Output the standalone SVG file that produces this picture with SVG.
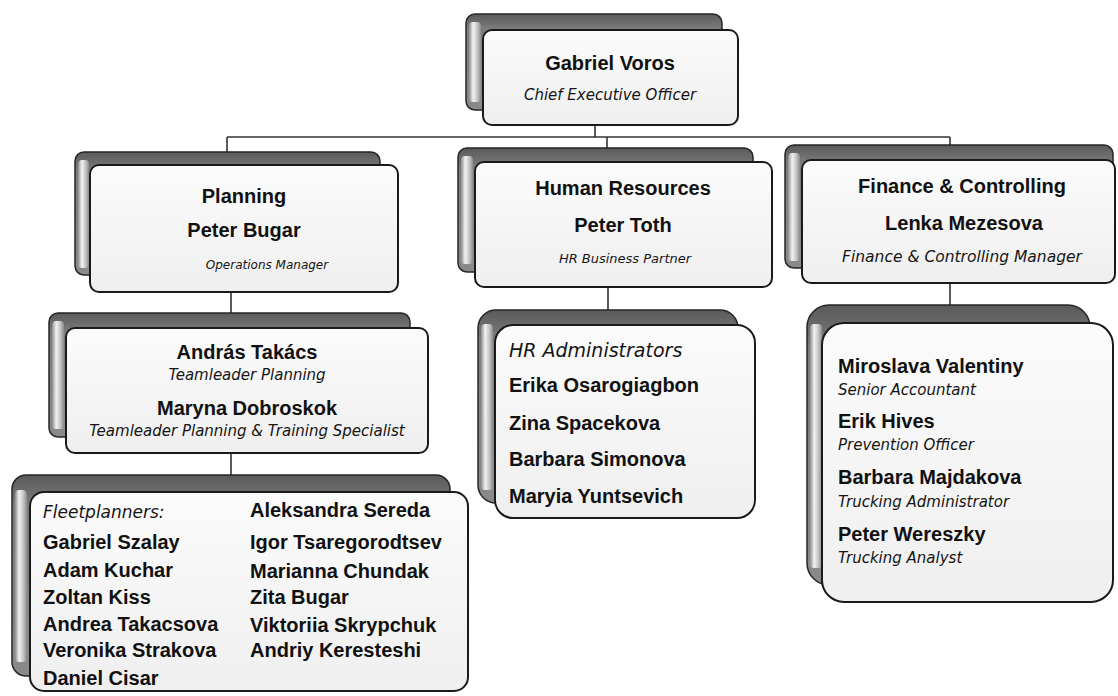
<svg xmlns="http://www.w3.org/2000/svg" width="1118" height="696" viewBox="0 0 1118 696">
<defs>
<linearGradient id="gBack" x1="0" y1="0" x2="0" y2="1">
<stop offset="0" stop-color="#5a5a5a"/>
<stop offset="0.15" stop-color="#7c7c7c"/>
<stop offset="1" stop-color="#8a8a8a"/>
</linearGradient>
<linearGradient id="gHl" x1="0" y1="0" x2="1" y2="0">
<stop offset="0" stop-color="#8c8c8c"/>
<stop offset="0.35" stop-color="#f2f2f2"/>
<stop offset="0.7" stop-color="#c4c4c4"/>
<stop offset="1" stop-color="#8a8a8a"/>
</linearGradient>
<linearGradient id="gFront" x1="0" y1="0" x2="0" y2="1">
<stop offset="0" stop-color="#fbfbfb"/>
<stop offset="1" stop-color="#efefef"/>
</linearGradient>
<style>
.back{fill:url(#gBack);stroke:#262626;stroke-width:1.5}
.hl{fill:url(#gHl)}
.front{fill:url(#gFront);stroke:#1a1a1a;stroke-width:2}
.b{font-family:"Liberation Sans",Arial,sans-serif;font-weight:bold;font-size:20px;fill:#111}
.i{font-family:"DejaVu Sans","Liberation Sans",sans-serif;font-style:italic;fill:#151515}
.c{text-anchor:middle}
.conn{stroke:#333;stroke-width:1.6;fill:none}
</style>
</defs>
<rect width="1118" height="696" fill="#ffffff"/>

<g id="connectors">
<path class="conn" d="M595,125 V137"/>
<path class="conn" d="M227,137 H950"/>
<path class="conn" d="M227,137 V152"/>
<path class="conn" d="M607,137 V148"/>
<path class="conn" d="M950,137 V145"/>
<path class="conn" d="M231,292 V313"/>
<path class="conn" d="M231,453 V475"/>
<path class="conn" d="M608,287 V310"/>
<path class="conn" d="M950,283 V305"/>
</g>

<g id="ceo">
<rect class="back" x="466" y="14" width="256" height="96" rx="9"/>
<rect class="hl" x="469" y="22" width="12" height="80" rx="4"/>
<rect class="front" x="483" y="30" width="255" height="95" rx="9"/>
<text class="b c" x="610" y="70">Gabriel Voros</text>
<text class="i c" x="610" y="100" font-size="15">Chief Executive Officer</text>
</g>

<g id="planning">
<rect class="back" x="75" y="152" width="305" height="123" rx="9"/>
<rect class="hl" x="78" y="160" width="11" height="108" rx="4"/>
<rect class="front" x="90" y="165" width="308" height="127" rx="9"/>
<text class="b c" x="244" y="203">Planning</text>
<text class="b c" x="244" y="237">Peter Bugar</text>
<text class="i c" x="267" y="269" font-size="12">Operations Manager</text>
</g>

<g id="hr">
<rect class="back" x="458" y="148" width="295" height="124" rx="9"/>
<rect class="hl" x="461" y="156" width="12" height="108" rx="4"/>
<rect class="front" x="475" y="162" width="297" height="125" rx="9"/>
<text class="b c" x="623" y="195">Human Resources</text>
<text class="b c" x="623" y="232">Peter Toth</text>
<text class="i c" x="625" y="263" font-size="13">HR Business Partner</text>
</g>

<g id="finance">
<rect class="back" x="785" y="145" width="328" height="123" rx="9"/>
<rect class="hl" x="788" y="153" width="12" height="108" rx="4"/>
<rect class="front" x="802" y="160" width="313" height="123" rx="9"/>
<text class="b c" x="962" y="193">Finance &amp; Controlling</text>
<text class="b c" x="964" y="230">Lenka Mezesova</text>
<text class="i c" x="962" y="262" font-size="15.5">Finance &amp; Controlling Manager</text>
</g>

<g id="teamleaders">
<rect class="back" x="49" y="313" width="361" height="124" rx="9"/>
<rect class="hl" x="52" y="321" width="12" height="108" rx="4"/>
<rect class="front" x="66" y="328" width="362" height="125" rx="9"/>
<text class="b c" x="247" y="359">András Takács</text>
<text class="i c" x="247" y="380" font-size="15">Teamleader Planning</text>
<text class="b c" x="247" y="415">Maryna Dobroskok</text>
<text class="i c" x="247" y="436" font-size="15">Teamleader Planning &amp; Training Specialist</text>
</g>

<g id="hr-admins">
<rect class="back" x="478" y="310" width="260" height="193" rx="18"/>
<rect class="hl" x="481" y="324" width="12" height="166" rx="4"/>
<rect class="front" x="495" y="325" width="260" height="193" rx="18"/>
<text class="i" x="509" y="357" font-size="19">HR Administrators</text>
<text class="b" x="509" y="392">Erika Osarogiagbon</text>
<text class="b" x="509" y="430">Zina Spacekova</text>
<text class="b" x="509" y="466">Barbara Simonova</text>
<text class="b" x="509" y="503">Maryia Yuntsevich</text>
</g>

<g id="finance-team">
<rect class="back" x="807" y="305" width="283" height="280" rx="22"/>
<rect class="hl" x="810" y="324" width="12" height="244" rx="4"/>
<rect class="front" x="822" y="323" width="291" height="279" rx="22"/>
<text class="b" x="838" y="373">Miroslava Valentiny</text>
<text class="i" x="838" y="395" font-size="15">Senior Accountant</text>
<text class="b" x="838" y="428">Erik Hives</text>
<text class="i" x="838" y="450" font-size="15">Prevention Officer</text>
<text class="b" x="838" y="484">Barbara Majdakova</text>
<text class="i" x="838" y="507" font-size="15">Trucking Administrator</text>
<text class="b" x="838" y="541">Peter Wereszky</text>
<text class="i" x="838" y="563" font-size="15">Trucking Analyst</text>
</g>

<g id="fleetplanners">
<rect class="back" x="12" y="475" width="438" height="201" rx="14"/>
<rect class="hl" x="15" y="490" width="12" height="172" rx="4"/>
<rect class="front" x="30" y="492" width="438" height="199" rx="14"/>
<text class="i" x="43" y="518" font-size="17">Fleetplanners:</text>
<text class="b" x="43" y="549" font-size="19">Gabriel Szalay</text>
<text class="b" x="43" y="577" font-size="19">Adam Kuchar</text>
<text class="b" x="43" y="604" font-size="19">Zoltan Kiss</text>
<text class="b" x="43" y="631" font-size="19">Andrea Takacsova</text>
<text class="b" x="43" y="657" font-size="19">Veronika Strakova</text>
<text class="b" x="43" y="685" font-size="19">Daniel Cisar</text>
<text class="b" x="250" y="517" font-size="19">Aleksandra Sereda</text>
<text class="b" x="250" y="549" font-size="19">Igor Tsaregorodtsev</text>
<text class="b" x="250" y="578" font-size="19">Marianna Chundak</text>
<text class="b" x="250" y="604" font-size="19">Zita Bugar</text>
<text class="b" x="250" y="632" font-size="19">Viktoriia Skrypchuk</text>
<text class="b" x="250" y="657" font-size="19">Andriy Keresteshi</text>
</g>
</svg>
